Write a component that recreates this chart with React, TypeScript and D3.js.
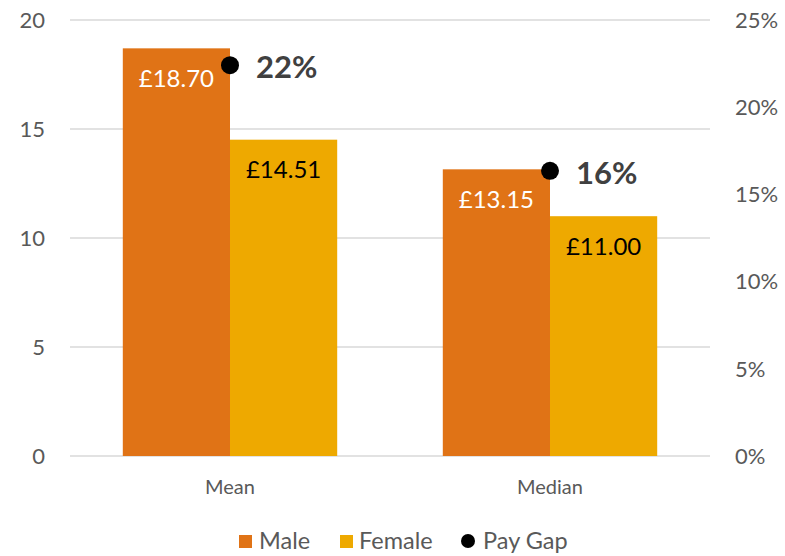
import React from "react";
import * as d3 from "d3";

const categories = ["Mean", "Median"];
const seriesNames = ["Male", "Female"];
const maleValues = [18.7, 13.15];
const femaleValues = [14.51, 11.0];
const barLabels = [["£18.70", "£13.15"], ["£14.51", "£11.00"]];
const gapLabels = ["22%", "16%"];
const leftTicks = [0, 5, 10, 15, 20];
const rightTicks = [0, 0.05, 0.1, 0.15, 0.2, 0.25];

const W = 785, H = 556;
const left = 70, right = 710, top = 20, bottom = 456;
const colors = ["#E07316", "#EEA900"];
const font = "Lato, 'Open Sans', sans-serif";

export default function App() {
  const x = d3.scaleBand().domain(categories).range([left, right]).paddingInner(0.33).paddingOuter(0.165);
  const xs = d3.scaleBand().domain(seriesNames).range([0, x.bandwidth()]);
  const y = d3.scaleLinear().domain([0, 20]).range([bottom, top]);
  const y2 = d3.scaleLinear().domain([0, 0.25]).range([bottom, top]);
  const values = [maleValues, femaleValues];
  const gapActual = categories.map((_, i) => (maleValues[i] - femaleValues[i]) / maleValues[i]);
  return (
    <svg width={W} height={H} style={{ position: "absolute", left: 0, top: 0, fontFamily: font }}>
      <rect width={W} height={H} fill="#fff" />
      {leftTicks.map(t => (
        <g key={t}>
          <line x1={left} x2={right} y1={y(t)} y2={y(t)} stroke="#D9D9D9" strokeWidth={1.5} />
          <text x={45} y={y(t)} dy="0.35em" textAnchor="end" fontSize={22} fill="#595959">{t}</text>
        </g>
      ))}
      {rightTicks.map(t => (
        <text key={t} x={735} y={y2(t)} dy="0.35em" fontSize={22} fill="#595959">{d3.format(".0%")(t)}</text>
      ))}
      {categories.map((c, i) => (
        <g key={c}>
          {seriesNames.map((s, j) => {
            const bx = (x(c) as number) + (xs(s) as number);
            const v = values[j][i];
            return (
              <g key={s}>
                <rect x={bx} y={y(v)} width={xs.bandwidth()} height={bottom - y(v)} fill={colors[j]} />
                <text x={bx + xs.bandwidth() / 2} y={y(v) + 30} dy="0.35em" textAnchor="middle" fontSize={24}
                  fill={j === 0 ? "#fff" : "#000"}>{barLabels[j][i]}</text>
              </g>
            );
          })}
          <circle cx={(x(c) as number) + x.bandwidth() / 2} cy={y2(gapActual[i])} r={9} fill="#000" />
          <text x={(x(c) as number) + x.bandwidth() / 2 + 26} y={y2(gapActual[i]) + 2} dy="0.35em" fontSize={31}
            fontWeight="bold" fill="#404040">{gapLabels[i]}</text>
          <text x={(x(c) as number) + x.bandwidth() / 2} y={487} dy="0.35em" textAnchor="middle" fontSize={20}
            fill="#595959">{c}</text>
        </g>
      ))}
      <g transform="translate(0,541)">
        <rect x={239} y={-6} width={13} height={13} fill={colors[0]} />
        <text x={259} y={0} dy="0.35em" fontSize={23.5} fill="#595959">Male</text>
        <rect x={340} y={-6} width={13} height={13} fill={colors[1]} />
        <text x={359} y={0} dy="0.35em" fontSize={23.5} fill="#595959">Female</text>
        <circle cx={468} cy={0} r={7} fill="#000" />
        <text x={483} y={0} dy="0.35em" fontSize={23.5} fill="#595959">Pay Gap</text>
      </g>
    </svg>
  );
}
